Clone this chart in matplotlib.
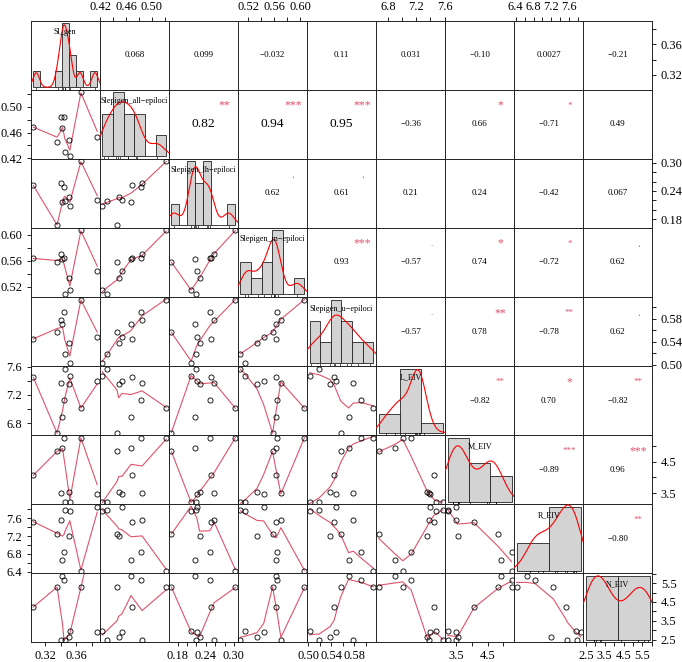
import numpy as np
import matplotlib
matplotlib.use("Agg")
import matplotlib.pyplot as plt

plt.rcParams['font.family'] = ['Liberation Serif', 'DejaVu Serif']
plt.rcParams['axes.unicode_minus'] = True

var_names = ["Sl_gen", "Slepigen_all\u2212epiloci", "Slepigen_lh\u2212epiloci",
             "Slepigen_m\u2212epiloci", "Slepigen_u\u2212epiloci",
             "L_EIV", "M_EIV", "R_EIV", "N_EIV"]

sl_gen = [0.3042, 0.3350, 0.3405, 0.3440, 0.3420, 0.3450, 0.3505, 0.3515, 0.3658, 0.3869]
slep_all = [0.4687, 0.4460, 0.4849, 0.4838, 0.4678, 0.4298, 0.4485, 0.4231, 0.5227, 0.4538]
slep_lh = [0.2519, 0.1665, 0.2578, 0.2483, 0.2174, 0.2195, 0.2267, 0.2087, 0.3031, 0.2210]
slep_m = [0.5635, 0.5575, 0.5702, 0.5640, 0.5630, 0.5084, 0.5337, 0.5150, 0.6062, 0.5439]
slep_u = [0.5450, 0.5565, 0.5782, 0.5915, 0.5700, 0.5193, 0.5380, 0.5023, 0.6132, 0.5485]
l_eiv = [7.450, 6.667, 7.374, 7.129, 6.893, 7.572, 7.355, 7.473, 7.010, 7.398]
m_eiv = [4.068, 4.826, 3.500, 5.262, 4.921, 3.235, 3.550, 3.235, 5.262, 3.484]
r_eiv = [7.524, 7.247, 7.562, 6.836, 6.663, 7.786, 7.202, 7.764, 6.422, 7.861]
n_eiv = [4.230, 5.288, 2.500, 5.637, 5.886, 2.500, 2.643, 2.939, 5.267, 2.886]

# histogram break points (diagonal panels)
breaks_sl_gen = [0.30, 0.31, 0.32, 0.33, 0.34, 0.35, 0.36, 0.37, 0.38, 0.39]
breaks_all = [0.42, 0.44, 0.46, 0.48, 0.50, 0.52, 0.54]
breaks_lh = [0.16, 0.18, 0.20, 0.22, 0.24, 0.26, 0.28, 0.30, 0.32]
breaks_m = [0.50, 0.52, 0.54, 0.56, 0.58, 0.60, 0.62]
breaks_u = [0.50, 0.52, 0.54, 0.56, 0.58, 0.60, 0.62]
breaks_l = [6.5, 7.0, 7.5, 8.0]
breaks_mm = [3.0, 4.0, 5.0, 6.0]
breaks_r = [6.0, 7.0, 8.0]
breaks_n = [2.0, 4.0, 6.0]

# correlation labels (upper triangle, row by row) and significance marks
cor_row_1 = ["0.068", "0.099", "\u22120.032", "0.11", "0.031", "\u22120.10", "0.0027", "\u22120.21"]
cor_row_2 = ["0.82", "0.94", "0.95", "\u22120.36", "0.66", "\u22120.71", "0.49"]
cor_row_3 = ["0.62", "0.61", "0.21", "0.24", "\u22120.42", "0.067"]
cor_row_4 = ["0.93", "\u22120.57", "0.74", "\u22120.72", "0.62"]
cor_row_5 = ["\u22120.57", "0.78", "\u22120.78", "0.62"]
cor_row_6 = ["\u22120.82", "0.70", "\u22120.82"]
cor_row_7 = ["\u22120.89", "0.96"]
cor_row_8 = ["\u22120.80"]
sig_row_1 = ["", "", "", "", "", "", "", ""]
sig_row_2 = ["**", "***", "***", "", "*", "*", ""]
sig_row_3 = [".", ".", "", "", "", ""]
sig_row_4 = ["***", ".", "*", "*", "."]
sig_row_5 = [".", "**", "**", "."]
sig_row_6 = ["**", "*", "**"]
sig_row_7 = ["***", "***"]
sig_row_8 = ["**"]

# axis tick step, label every k-th tick, label format
tick_step = [0.02, 0.02, 0.02, 0.02, 0.02, 0.2, 0.5, 0.2, 0.5]
label_every = [2, 2, 3, 2, 2, 2, 2, 2, 2]
tick_fmt = ["%.2f"] * 5 + ["%.1f"] * 4

data = [np.array(v, dtype=float) for v in
        (sl_gen, slep_all, slep_lh, slep_m, slep_u, l_eiv, m_eiv, r_eiv, n_eiv)]
breaks = [np.array(b) for b in (breaks_sl_gen, breaks_all, breaks_lh, breaks_m,
                                breaks_u, breaks_l, breaks_mm, breaks_r, breaks_n)]
cor_rows = [cor_row_1, cor_row_2, cor_row_3, cor_row_4, cor_row_5, cor_row_6, cor_row_7, cor_row_8]
sig_rows = [sig_row_1, sig_row_2, sig_row_3, sig_row_4, sig_row_5, sig_row_6, sig_row_7, sig_row_8]
big_cells = {(1, 2), (1, 3), (1, 4)}


# ---------------- R's lowess (clowess port) ----------------
def _lowest(x, y, n, xs, nleft, nright, w, userw, rw):
    rng = x[n - 1] - x[0]
    h = max(xs - x[nleft], x[nright] - xs)
    h9, h1 = 0.999 * h, 0.001 * h
    a = 0.0
    j = nleft
    while j < n:
        w[j] = 0.0
        r = abs(x[j] - xs)
        if r <= h9:
            if r <= h1:
                w[j] = 1.0
            else:
                w[j] = (1.0 - (r / h) ** 3) ** 3
            if userw:
                w[j] *= rw[j]
            a += w[j]
        elif x[j] > xs:
            break
        j += 1
    nrt = j - 1
    if a <= 0.0:
        return None
    for k in range(nleft, nrt + 1):
        w[k] /= a
    if h > 0.0:
        a = sum(w[k] * x[k] for k in range(nleft, nrt + 1))
        b = xs - a
        c = sum(w[k] * (x[k] - a) ** 2 for k in range(nleft, nrt + 1))
        if np.sqrt(c) > 0.001 * rng:
            b /= c
            for k in range(nleft, nrt + 1):
                w[k] *= (b * (x[k] - a) + 1.0)
    return sum(w[k] * y[k] for k in range(nleft, nrt + 1))


def lowess(x, y, f=2 / 3, nsteps=3):
    o = np.argsort(x, kind="stable")
    x = np.asarray(x, float)[o]
    y = np.asarray(y, float)[o]
    n = len(x)
    delta = 0.01 * (x[-1] - x[0])
    ys = np.zeros(n)
    rw = np.ones(n)
    res = np.zeros(n)
    ns = max(2, min(n, int(f * n + 1e-7)))
    it = 1
    while it <= nsteps + 1:
        nleft, nright, last, i = 0, ns - 1, -1, 0
        while True:
            if nright < n - 1:
                d1 = x[i] - x[nleft]
                d2 = x[nright + 1] - x[i]
                if d1 > d2:
                    nleft += 1
                    nright += 1
                    continue
            val = _lowest(x, y, n, x[i], nleft, nright, res, it > 1, rw)
            ys[i] = y[i] if val is None else val
            if last < i - 1:
                denom = x[i] - x[last]
                for j in range(last + 1, i):
                    alpha = (x[j] - x[last]) / denom
                    ys[j] = alpha * ys[i] + (1 - alpha) * ys[last]
            last = i
            cut = x[last] + delta
            i = last + 1
            while i < n:
                if x[i] > cut:
                    break
                if x[i] == x[last]:
                    ys[i] = ys[last]
                    last = i
                i += 1
            i = max(last + 1, i - 1)
            if last >= n - 1:
                break
        res = y - ys
        sc = np.mean(np.abs(res))
        if it > nsteps:
            break
        srt = np.sort(np.abs(res))
        m1 = n // 2
        if n % 2 == 0:
            cmad = 3.0 * (srt[m1] + srt[n - m1 - 1])
        else:
            cmad = 6.0 * srt[m1]
        if cmad < 1e-7 * sc:
            break
        r = np.abs(res)
        rw = np.where(r <= 0.001 * cmad, 1.0,
                      np.where(r <= 0.999 * cmad, (1 - (r / cmad) ** 2) ** 2, 0.0))
        res = np.zeros(n)
        it += 1
    return x, ys


def density(x):
    n = len(x)
    hi = np.std(x, ddof=1)
    q75, q25 = np.percentile(x, [75, 25])
    lo = min(hi, (q75 - q25) / 1.34)
    if lo == 0:
        lo = hi
    bw = 0.9 * lo * n ** (-0.2)
    gx = np.linspace(x.min() - 3 * bw, x.max() + 3 * bw, 512)
    gy = np.exp(-0.5 * ((gx[:, None] - x[None, :]) / bw) ** 2).sum(1) / (n * bw * np.sqrt(2 * np.pi))
    return gx, gy


def em_width(s):
    w = 0.0
    for ch in s:
        w += 0.25 if ch == "." else (0.564 if ch == "\u2212" else 0.5)
    return w


# ---------------- layout ----------------
W, H = 682, 662
fig = plt.figure(figsize=(W / 100, H / 100), dpi=100)
L, R = 30.7 / W, 652.3 / W
T, B = 1 - 20.7 / H, 1 - 642.3 / H
pw, ph = (R - L) / 9, (T - B) / 9
nv = 9

lims = []
for v in data:
    r = v.max() - v.min()
    lims.append((v.min() - 0.04 * r, v.max() + 0.04 * r))

LINE_C = "#DF536B"
TICK_FS = 8.9


def set_ticks(ax, k, axis, side):
    lo, hi = lims[k]
    st = tick_step[k]
    t = np.arange(np.ceil(lo / st - 1e-9), np.floor(hi / st + 1e-9) + 1) * st
    labs = [(tick_fmt[k] % v) if idx % label_every[k] == 0 else "" for idx, v in enumerate(t)]
    if axis == "x":
        ax.set_xticks(t)
        ax.set_xticklabels(labs)
        if side == "top":
            ax.xaxis.tick_top()
        ax.tick_params(axis="x", length=3.2, width=0.6, labelsize=TICK_FS,
                       pad=2.0 if side == "bottom" else 2.5, colors="black")
    else:
        ax.set_yticks(t)
        ax.set_yticklabels(labs)
        if side == "right":
            ax.yaxis.tick_right()
        ax.tick_params(axis="y", length=3.2, width=0.6, labelsize=TICK_FS,
                       pad=3.0, colors="black")


for i in range(nv):
    for j in range(nv):
        rect = [L + j * pw, T - (i + 1) * ph, pw, ph]
        ax = fig.add_axes(rect)
        ax.set_xlim(*lims[j])
        ax.set_ylim(*lims[i])
        ax.set_xticks([])
        ax.set_yticks([])
        for s in ax.spines.values():
            s.set_linewidth(0.7)
            s.set_color("#222222")
        # outer axes
        if i == 0 and j % 2 == 1:
            set_ticks(ax, j, "x", "top")
        if i == nv - 1 and j % 2 == 0:
            set_ticks(ax, j, "x", "bottom")
        if j == 0 and i % 2 == 1:
            set_ticks(ax, i, "y", "left")
        if j == nv - 1 and i % 2 == 0:
            set_ticks(ax, i, "y", "right")

        if i > j:
            # lower panel: scatter + lowess
            ax.plot(data[j], data[i], linestyle="none", marker="o", ms=3.7,
                    mfc="none", mec="black", mew=0.6, zorder=3)
            lx, ly = lowess(data[j], data[i])
            ax.plot(lx, ly, color=LINE_C, lw=0.8, zorder=2)
        elif i < j:
            txt = cor_rows[i][j - i - 1]
            sig = sig_rows[i][j - i - 1]
            fs = 9.7 if (i, j) in big_cells else 6.5
            ax.text(0.5, 0.5, txt, transform=ax.transAxes, ha="center", va="center",
                    fontsize=fs, color="black")
            if sig:
                sfs = 20.6 / em_width(txt) * 0.72
                ax.text(0.8, 0.77, sig, transform=ax.transAxes, ha="center",
                        va="center", fontsize=sfs, color=LINE_C)
        else:
            # diagonal: histogram, density, rug, label
            ax2 = fig.add_axes(rect)
            ax2.set_axis_off()
            br = breaks[i]
            x = data[i]
            idx = np.clip(np.searchsorted(br, x, side="left") - 1, 0, len(br) - 2)
            counts = np.bincount(idx, minlength=len(br) - 1)
            dens = counts / (len(x) * np.diff(br))
            xr = br[-1] - br[0]
            ax2.set_xlim(br[0] - 0.04 * xr, br[-1] + 0.04 * xr)
            ym = dens.max()
            ax2.set_ylim(-0.04 * ym, 1.04 * ym)
            ax2.bar(br[:-1], dens, width=np.diff(br), align="edge", color="#D3D3D3",
                    edgecolor="#222222", linewidth=0.6, zorder=2)
            gx, gy = density(x)
            ax2.plot(gx, gy, color="red", lw=0.8, zorder=3)
            y0 = -0.04 * ym
            tl = 0.03 * 1.08 * ym
            for xv in x:
                ax2.plot([xv, xv], [y0, y0 + tl], color="black", lw=0.5, zorder=3)
            ax2.text(0.5, 0.833, var_names[i], transform=ax2.transAxes, ha="center",
                     va="center", fontsize=5.85, zorder=4)

fig.savefig("out.png", dpi=100)
